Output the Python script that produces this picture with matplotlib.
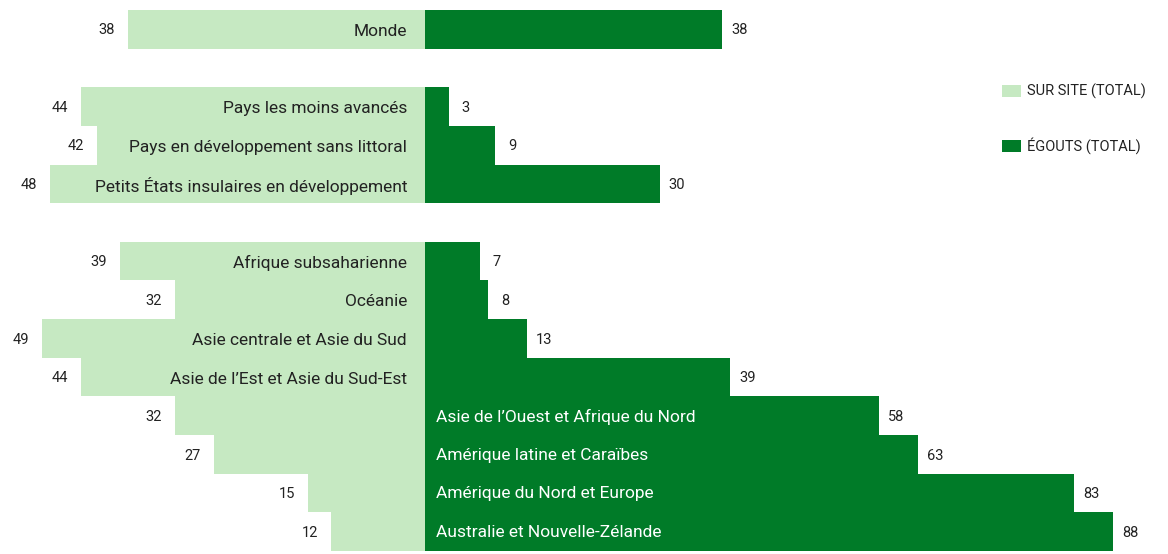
import numpy as np
import matplotlib
matplotlib.use("Agg")
from matplotlib import pyplot as plt
from matplotlib.patches import Rectangle

plt.rcParams['font.family'] = ['Roboto', 'DejaVu Sans']

# assainissement : sur site vs egouts (%)
groups = [
    ["Monde"],
    ["Pays les moins avancés",
     "Pays en développement sans littoral",
     "Petits États insulaires en développement"],
    ["Afrique subsaharienne",
     "Océanie",
     "Asie centrale et Asie du Sud",
     "Asie de l\u2019Est et Asie du Sud-Est",
     "Asie de l\u2019Ouest et Afrique du Nord",
     "Amérique latine et Caraïbes",
     "Amérique du Nord et Europe",
     "Australie et Nouvelle-Zélande"],
]
surSite = [38, 44, 42, 48, 39, 32, 49, 44, 32, 27, 15, 12]
egouts = [38, 3, 9, 30, 7, 8, 13, 39, 58, 63, 83, 88]

legendLabels = ["SUR SITE (TOTAL)", "ÉGOUTS (TOTAL)"]

lightGreen = "#c6e9c2"
darkGreen = "#007b28"
textColor = "#222222"

# one empty slot between groups
names, slots = [], []
pos = 0
for g in groups:
    for n in g:
        names.append(n)
        slots.append(pos)
        pos += 1
    pos += 1
slots = np.array(slots)

fig = plt.figure(figsize=(11.68, 5.54), dpi=100)
ax = fig.add_axes([0, 0, 1, 1])

ax.barh(slots, -np.array(surSite), height=1.0, color=lightGreen, linewidth=0)
ax.barh(slots, egouts, height=1.0, color=darkGreen, linewidth=0)

for y, name, a, b in zip(slots, names, surSite, egouts):
    ax.text(-a - 2.7, y + 0.03, str(a), ha='center', va='center', fontsize=10.5, color=textColor)
    ax.text(b + 2.2, y + 0.03, str(b), ha='center', va='center', fontsize=10.5, color=textColor)
    if a >= b:
        ax.text(-2.3, y + 0.05, name, ha='right', va='center', fontsize=12.5,
                color=textColor)
    else:
        ax.text(1.4, y + 0.02, name, ha='left', va='center', fontsize=12.5,
                color='white')

ax.set_xlim(-54.35, 95.0)
ax.set_ylim(13.578, -0.759)
ax.axis('off')

# legend
for i, (lab, col) in enumerate(zip(legendLabels, [lightGreen, darkGreen])):
    yTop = 85 + i * 55
    fig.patches.append(Rectangle((1002 / 1168, 1 - (yTop + 12) / 554), 19 / 1168, 12 / 554,
                                 transform=fig.transFigure, color=col, linewidth=0))
    fig.text(1027 / 1168, 1 - (yTop + 6) / 554, lab, ha='left', va='center',
             fontsize=10.5, color=textColor)

fig.savefig("out.png", dpi=100)
